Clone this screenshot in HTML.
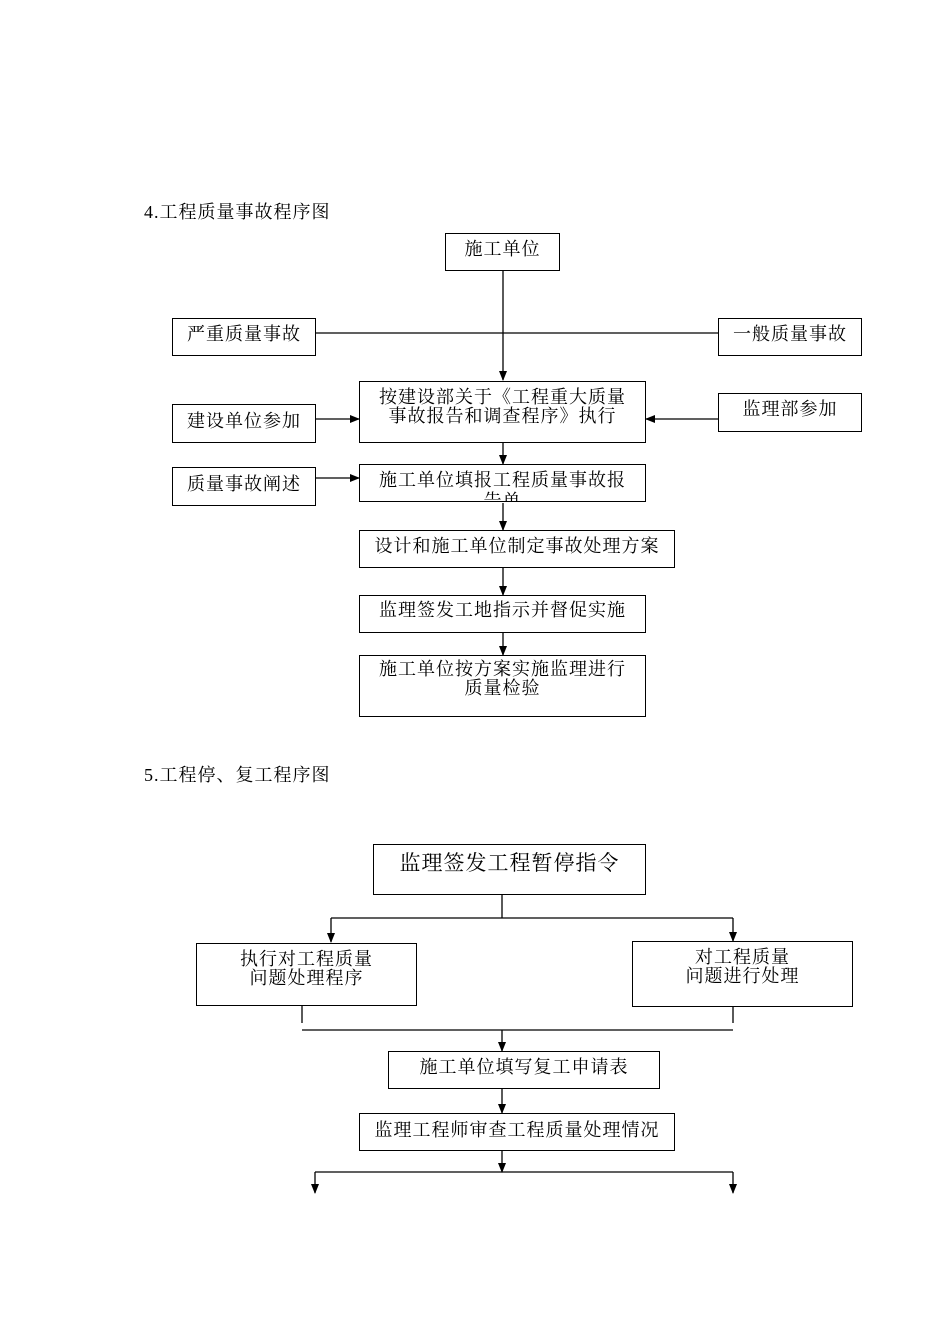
<!DOCTYPE html>
<html><head><meta charset="utf-8"><style>
body{margin:0;background:#fff;}
#p{position:relative;width:950px;height:1344px;overflow:hidden;font-family:"Liberation Serif","Noto Serif CJK SC",serif;color:#000;}
.b{position:absolute;box-sizing:border-box;border:1.5px solid #000;text-align:center;font-size:18px;letter-spacing:1px;line-height:19px;overflow:hidden;}
.t{position:absolute;font-size:18px;letter-spacing:1px;white-space:nowrap;}
svg{position:absolute;left:0;top:0;}
</style></head><body><div id="p">
<svg width="950" height="1344">
<defs><marker id="a" markerWidth="10" markerHeight="10" refX="9" refY="5" orient="auto" markerUnits="userSpaceOnUse"><path d="M0,1 L10,5 L0,9 z" fill="#000"/></marker></defs>
<g stroke="#000" stroke-width="1.3" fill="none">
<line x1="315" y1="333" x2="718" y2="333"/>
<line x1="503" y1="270" x2="503" y2="380" marker-end="url(#a)"/>
<line x1="315" y1="419" x2="359" y2="419" marker-end="url(#a)"/>
<line x1="718" y1="419" x2="646" y2="419" marker-end="url(#a)"/>
<line x1="503" y1="442" x2="503" y2="464" marker-end="url(#a)"/>
<line x1="315" y1="478" x2="359" y2="478" marker-end="url(#a)"/>
<line x1="503" y1="503" x2="503" y2="530" marker-end="url(#a)"/>
<line x1="503" y1="567" x2="503" y2="595" marker-end="url(#a)"/>
<line x1="503" y1="632" x2="503" y2="655" marker-end="url(#a)"/>
<line x1="502" y1="894" x2="502" y2="918"/>
<line x1="331" y1="918" x2="733" y2="918"/>
<line x1="331" y1="918" x2="331" y2="942" marker-end="url(#a)"/>
<line x1="733" y1="918" x2="733" y2="941" marker-end="url(#a)"/>
<line x1="302" y1="1006" x2="302" y2="1023"/>
<line x1="733" y1="1006" x2="733" y2="1023"/>
<line x1="302" y1="1030" x2="733" y2="1030"/>
<line x1="502" y1="1030" x2="502" y2="1051" marker-end="url(#a)"/>
<line x1="502" y1="1088" x2="502" y2="1113" marker-end="url(#a)"/>
<line x1="502" y1="1150" x2="502" y2="1172" marker-end="url(#a)"/>
<line x1="315" y1="1172" x2="733" y2="1172"/>
<line x1="315" y1="1172" x2="315" y2="1193" marker-end="url(#a)"/>
<line x1="733" y1="1172" x2="733" y2="1193" marker-end="url(#a)"/>
</g></svg>
<div class="t" style="left:144px;top:198px">4.工程质量事故程序图</div>
<div class="b" style="left:445px;top:233px;width:115px;height:38px;padding-top:6px">施工单位</div>
<div class="b" style="left:172px;top:318px;width:144px;height:38px;padding-top:6px">严重质量事故</div>
<div class="b" style="left:718px;top:318px;width:144px;height:38px;padding-top:6px">一般质量事故</div>
<div class="b" style="left:359px;top:381px;width:287px;height:62px;padding-top:6px">按建设部关于《工程重大质量<br>事故报告和调查程序》执行</div>
<div class="b" style="left:172px;top:404px;width:144px;height:39px;padding-top:7px">建设单位参加</div>
<div class="b" style="left:718px;top:393px;width:144px;height:39px;padding-top:6px">监理部参加</div>
<div class="b" style="left:359px;top:464px;width:287px;height:38px;padding-top:5px;line-height:21px">施工单位填报工程质量事故报<br>告单</div>
<div class="b" style="left:172px;top:467px;width:144px;height:39px;padding-top:7px">质量事故阐述</div>
<div class="b" style="left:359px;top:530px;width:316px;height:38px;padding-top:6px">设计和施工单位制定事故处理方案</div>
<div class="b" style="left:359px;top:595px;width:287px;height:38px;padding-top:5px">监理签发工地指示并督促实施</div>
<div class="b" style="left:359px;top:655px;width:287px;height:62px;padding-top:4px">施工单位按方案实施监理进行<br>质量检验</div>
<div class="t" style="left:144px;top:761px">5.工程停、复工程序图</div>
<div class="b" style="left:373px;top:844px;width:273px;height:51px;padding-top:6px;font-size:21px;line-height:24px">监理签发工程暂停指令</div>
<div class="b" style="left:196px;top:943px;width:221px;height:63px;padding-top:6px">执行对工程质量<br>问题处理程序</div>
<div class="b" style="left:632px;top:941px;width:221px;height:66px;padding-top:6px">对工程质量<br>问题进行处理</div>
<div class="b" style="left:388px;top:1051px;width:272px;height:38px;padding-top:6px">施工单位填写复工申请表</div>
<div class="b" style="left:359px;top:1113px;width:316px;height:38px;padding-top:7px">监理工程师审查工程质量处理情况</div>
</div></body></html>
